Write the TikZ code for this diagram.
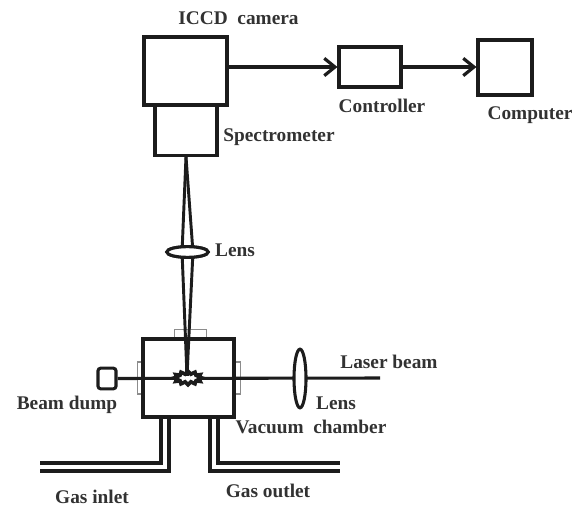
\documentclass[tikz,border=0pt]{standalone}
\usepackage{fontspec}
\setmainfont{Liberation Serif}
\usetikzlibrary{arrows.meta,shapes.geometric,shapes.symbols}
\definecolor{inkline}{RGB}{28,28,28}
\definecolor{inktext}{RGB}{50,50,50}
\tikzset{every picture/.style={line width=0.75pt},
  boxnode/.style={draw=inkline,line width=2.3pt,fill=white,inner sep=0pt},
  lensnode/.style={ellipse,draw=inkline,line width=2.3pt,fill=white,inner sep=0pt},
  windownode/.style={draw=black!45,line width=0.8pt,fill=white,inner sep=0pt},
  beamline/.style={draw=inkline,line width=2.3pt},
  rayline/.style={draw=inkline,line width=2.2pt},
  pipeline/.style={draw=inkline,line width=2.3pt,line join=miter},
  linkline/.style={draw=inkline,line width=2.4pt,-{Straight Barb[length=8pt,width=13pt,line width=2.4pt]}},
  labelnode/.style={text=inktext,font=\fontsize{14.5}{16}\selectfont\bfseries,inner sep=0pt}}
\begin{document}
\begin{tikzpicture}[x=0.75pt,y=0.75pt,yscale=-1,xscale=1]
\useasboundingbox (0,0) rectangle (581,506);

%Camera line
\node (spectrometer) [boxnode,minimum width=46.5pt,minimum height=38pt] at (186,130) {};
\node (camera) [boxnode,minimum width=62.25pt,minimum height=51pt] at (185.5,71) {};
\node (controller) [boxnode,minimum width=46.5pt,minimum height=30pt] at (370,67) {};
\node (computer) [boxnode,minimum width=40.5pt,minimum height=41.25pt] at (505,67.5) {};
\draw [linkline] (camera.east |- controller.west) -- (controller.west);
\draw [linkline] (controller.east) -- (computer.west |- controller.east);

%Windows of the chamber
\node (topwindow) [windownode,minimum width=24.5pt,minimum height=5.5pt] at (190.5,333.5) {};
\node (leftwindow) [windownode,minimum width=5pt,minimum height=24pt] at (140.5,378) {};
\node (rightwindow) [windownode,minimum width=5pt,minimum height=24pt] at (237,378) {};
%Vacuum chamber
\node (chamber) [boxnode,minimum width=68.25pt,minimum height=58.5pt] at (188.5,378) {};

%Focused rays
\coordinate (focus) at (187,376);
\node (toplens) [lensnode,minimum width=31pt,minimum height=8pt] at (187.5,252) {};
\draw [rayline] (spectrometer.south) -- ([xshift=-4.1pt]toplens.center) -- (focus);
\draw [rayline] (spectrometer.south) -- ([xshift=4.1pt]toplens.center) -- (focus);
\node (toplens) [lensnode,minimum width=31pt,minimum height=8pt] at (187.5,252) {};

%Laser beam
\node (dump) [boxnode,rounded corners=2pt,minimum width=13.5pt,minimum height=15.5pt] at (107,378.5) {};
\coordinate (beamend) at (380,378);
\draw [beamline] (dump.east) -- (beamend);
\node (sidelens) [lensnode,minimum width=9pt,minimum height=44pt] at (300,378.5) {};

%Plasma spark
\node (spark) [starburst,starburst points=12,starburst point height=2pt,random starburst=0,draw=inkline,fill=white,line width=2.8pt,minimum width=21pt,minimum height=10pt,inner sep=0pt] at (188,378) {};
\draw [rayline,line width=2.8pt] (chamber.north -| focus) -- (focus);

%Gas pipes
\coordinate (inleta) at (161,417);
\coordinate (inletb) at (169,417);
\coordinate (outleta) at (210,417);
\coordinate (outletb) at (218,417);
\coordinate (inletc) at (40,463);
\coordinate (inletd) at (40,471);
\coordinate (outletc) at (340,471);
\coordinate (outletd) at (340,463);
\draw [pipeline] (inleta) |- (inletc);
\draw [pipeline] (inletb) |- (inletd);
\draw [pipeline] (outleta) |- (outletc);
\draw [pipeline] (outletb) |- (outletd);

% Text Node
\node (cameralabel) [labelnode] at (238.5,18) {ICCD\ \ camera};
\node (speclabel) [labelnode] at (279,137) {Spectrometer};
\node (ctrllabel) [labelnode] at (382,106) {Controller};
\node (complabel) [labelnode] at (530,115) {Computer};
\node (toplenslabel) [labelnode] at (235,250) {Lens};
\node (laserlabel) [labelnode] at (389,362) {Laser beam};
\node (sidelenslabel) [labelnode] at (336,403) {Lens};
\node (chamberlabel) [labelnode] at (311,427) {Vacuum\ \ chamber};
\node (dumplabel) [labelnode] at (67,405) {Beam dump};
\node (inletlabel) [labelnode] at (92,496.5) {Gas inlet};
\node (outletlabel) [labelnode] at (268,491) {Gas outlet};
\end{tikzpicture}
\end{document}
